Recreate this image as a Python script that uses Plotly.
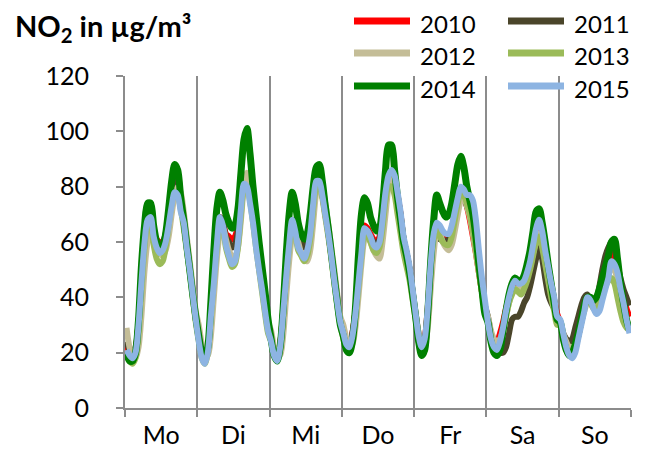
import plotly.graph_objects as go

days = ["Mo", "Di", "Mi", "Do", "Fr", "Sa", "So"]
years = ["2010", "2011", "2012", "2013", "2014", "2015"]
colors = ["#FF0000", "#4A452A", "#C4BD97", "#9BBB59", "#008000", "#8DB4E2"]
widths = [6, 6, 6, 6, 7, 6]
y_ticks = [0, 20, 40, 60, 80, 100, 120]

# hourly mean NO2 per weekday (24 values per day)
y2010 = [
    [23, 20, 19, 21, 31, 47, 61, 68, 68, 63, 61, 60, 60, 62, 68, 76, 80, 79, 73, 67, 59, 50, 42, 33],
    [25, 19, 17, 21, 34, 47, 60, 69, 67, 63, 62, 61, 62, 66, 75, 82, 83, 77, 69, 60, 51, 44, 36, 29],
    [25, 20, 18, 23, 35, 49, 60, 68, 66, 61, 60, 59, 60, 65, 75, 82, 82, 77, 70, 63, 55, 47, 39, 31],
    [27, 23, 22, 27, 35, 47, 58, 66, 65, 63, 61, 60, 62, 69, 78, 84, 85, 83, 77, 70, 61, 56, 50, 42],
    [33, 26, 22, 25, 36, 52, 62, 66, 65, 63, 62, 62, 65, 70, 75, 78, 77, 73, 68, 62, 56, 49, 42, 36],
    [32, 27, 24, 24, 27, 31, 36, 40, 44, 45, 45, 45, 46, 49, 54, 60, 65, 68, 64, 58, 51, 45, 39, 34],
    [31, 26, 22, 20, 20, 22, 26, 31, 36, 39, 39, 37, 37, 40, 44, 48, 52, 55, 56, 51, 45, 40, 36, 33],
]
y2011 = [
    [24, 21, 20, 22, 31, 47, 61, 68, 68, 63, 60, 59, 60, 63, 69, 77, 82, 84, 76, 67, 58, 50, 41, 32],
    [26, 20, 18, 21, 34, 48, 61, 69, 67, 62, 60, 58, 59, 64, 74, 82, 83, 77, 69, 60, 52, 44, 37, 30],
    [26, 21, 19, 23, 35, 49, 60, 68, 66, 61, 59, 58, 60, 65, 75, 82, 83, 78, 71, 64, 56, 48, 40, 32],
    [28, 24, 23, 27, 35, 47, 58, 65, 64, 62, 60, 59, 61, 68, 77, 83, 84, 82, 76, 70, 61, 56, 50, 42],
    [34, 27, 23, 25, 35, 50, 60, 63, 61, 61, 60, 61, 64, 69, 74, 77, 76, 73, 70, 65, 58, 50, 43, 37],
    [33, 27, 23, 21, 20, 20, 22, 27, 32, 33, 33, 35, 38, 40, 44, 49, 54, 58, 54, 47, 41, 38, 36, 33],
    [30, 27, 25, 24, 25, 29, 33, 37, 40, 41, 39, 38, 39, 44, 50, 55, 58, 60, 58, 52, 47, 43, 40, 37],
]
y2012 = [
    [29, 22, 19, 18, 22, 34, 50, 60, 63, 60, 57, 56, 55, 57, 62, 70, 77, 80, 78, 71, 62, 53, 44, 35],
    [30, 23, 19, 19, 26, 40, 54, 63, 65, 61, 57, 55, 54, 58, 68, 80, 85, 82, 73, 64, 55, 47, 39, 31],
    [28, 22, 19, 19, 26, 40, 53, 62, 64, 60, 56, 54, 53, 57, 67, 78, 82, 80, 74, 66, 58, 50, 41, 33],
    [30, 25, 22, 23, 29, 40, 52, 61, 63, 60, 57, 55, 54, 60, 70, 80, 84, 82, 76, 69, 61, 55, 49, 41],
    [34, 27, 23, 23, 29, 43, 56, 63, 63, 60, 58, 57, 59, 64, 70, 75, 76, 73, 69, 63, 56, 49, 42, 36],
    [33, 28, 25, 24, 25, 28, 33, 38, 42, 43, 43, 43, 44, 47, 51, 56, 60, 63, 60, 55, 48, 42, 37, 32],
    [31, 27, 24, 22, 22, 23, 26, 31, 35, 38, 38, 37, 36, 37, 40, 44, 48, 51, 50, 46, 41, 36, 32, 29],
]
y2013 = [
    [19, 17, 16, 18, 27, 43, 58, 66, 66, 59, 54, 52, 53, 58, 66, 74, 78, 77, 72, 65, 57, 49, 40, 31],
    [24, 18, 16, 20, 32, 46, 58, 67, 65, 58, 54, 51, 52, 58, 70, 79, 80, 75, 67, 58, 50, 42, 34, 27],
    [24, 19, 17, 21, 33, 47, 58, 66, 63, 57, 55, 53, 55, 61, 72, 80, 81, 76, 69, 62, 54, 45, 37, 30],
    [25, 21, 20, 24, 32, 44, 55, 63, 62, 60, 57, 56, 58, 65, 75, 80, 80, 77, 70, 63, 56, 51, 46, 39],
    [32, 24, 19, 21, 33, 50, 61, 64, 62, 60, 59, 59, 62, 68, 74, 78, 77, 74, 70, 64, 57, 49, 42, 35],
    [31, 25, 22, 21, 23, 27, 33, 38, 41, 43, 42, 41, 43, 46, 50, 55, 60, 62, 58, 52, 46, 40, 35, 30],
    [30, 25, 21, 19, 19, 21, 26, 31, 36, 39, 38, 36, 36, 38, 41, 44, 46, 47, 45, 40, 35, 31, 29, 28],
]
y2014 = [
    [20, 17, 17, 20, 32, 52, 66, 74, 74, 66, 60, 57, 58, 63, 72, 82, 88, 86, 76, 68, 59, 50, 41, 33],
    [26, 20, 18, 22, 38, 57, 72, 78, 75, 70, 67, 65, 66, 72, 85, 97, 101, 92, 80, 70, 60, 51, 42, 32],
    [25, 19, 17, 22, 36, 55, 70, 78, 74, 67, 63, 61, 63, 70, 80, 87, 88, 82, 73, 65, 56, 47, 38, 30],
    [26, 21, 20, 24, 36, 55, 70, 76, 74, 69, 66, 64, 65, 73, 86, 95, 95, 86, 76, 68, 60, 55, 49, 41],
    [33, 24, 19, 21, 34, 53, 68, 77, 74, 71, 69, 70, 74, 81, 88, 91, 87, 80, 75, 70, 62, 52, 43, 34],
    [31, 24, 20, 19, 21, 28, 35, 41, 45, 47, 46, 46, 48, 52, 57, 64, 71, 72, 67, 60, 52, 45, 38, 32],
    [31, 25, 21, 19, 20, 23, 27, 32, 37, 40, 40, 39, 40, 43, 47, 51, 55, 60, 61, 54, 45, 38, 32, 28],
]
y2015 = [
    [21, 19, 18, 20, 30, 46, 60, 68, 69, 62, 58, 56, 57, 60, 66, 73, 78, 77, 71, 67, 58, 50, 41, 32],
    [24, 18, 16, 20, 33, 45, 59, 69, 66, 59, 55, 52, 53, 60, 72, 81, 80, 74, 67, 58, 50, 43, 35, 28],
    [24, 19, 17, 22, 34, 47, 59, 68, 64, 58, 56, 54, 57, 63, 74, 82, 82, 77, 70, 63, 55, 46, 38, 31],
    [27, 23, 22, 26, 34, 45, 56, 65, 64, 62, 59, 58, 60, 68, 78, 84, 86, 84, 78, 71, 62, 57, 51, 43],
    [34, 26, 22, 25, 36, 52, 63, 67, 66, 64, 63, 63, 66, 71, 76, 80, 79, 77, 77, 75, 68, 57, 47, 39],
    [31, 25, 22, 21, 24, 29, 35, 40, 44, 46, 45, 45, 46, 49, 53, 59, 65, 68, 64, 57, 51, 45, 40, 33],
    [32, 27, 22, 19, 18, 20, 25, 30, 35, 40, 39, 36, 34, 35, 39, 43, 47, 53, 52, 49, 43, 38, 32, 27],
]

series = [y2010, y2011, y2012, y2013, y2014, y2015]
hours = [d * 24 + h + 0.5 for d in range(len(days)) for h in range(24)]

FONT = "Lato"
GRID = "#8C8C8C"
NB = "\u00a0"

# the page body has an 8px default margin; work in page pixels and convert
OFF = 8
W, H = 648 - OFF, 450 - OFF
PL, PR, PT, PB = 125 - OFF, 631 - OFF, 76 - OFF, 408 - OFF   # plot area in figure px
PW, PH = PR - PL, PB - PT


def px(xp):
    return (xp - OFF - PL) / PW


def py(yp):
    return (PB - (yp - OFF)) / PH


fig = go.Figure()
for name, vals, col, w in zip(years, series, colors, widths):
    flat = [v for day in vals for v in day]
    fig.add_trace(go.Scatter(x=hours, y=flat, mode="lines", name=name,
                             line=dict(color=col, width=w, shape="spline", smoothing=0.8),
                             showlegend=False))

fig.update_layout(
    width=W, height=H,
    margin=dict(l=PL, r=W - PR, t=PT, b=H - PB, autoexpand=False),
    paper_bgcolor="white", plot_bgcolor="white",
    font=dict(family=FONT, size=25, color="black"),
    xaxis=dict(
        range=[0, 168],
        tickmode="array",
        tickvals=[d * 24 + 12 for d in range(len(days))],
        ticktext=days,
        ticks="",
        showgrid=False,
        showline=True, linecolor=GRID, linewidth=1.5,
        zeroline=False, automargin=False,
        ticklabelstandoff=4,
        minor=dict(tickmode="array", tickvals=[d * 24 for d in range(len(days) + 1)],
                   ticks="outside", ticklen=7, tickwidth=1.5, tickcolor=GRID,
                   showgrid=True, gridcolor=GRID, gridwidth=1.5),
    ),
    yaxis=dict(
        range=[0, 120],
        tickmode="array", tickvals=y_ticks,
        ticktext=[f"{v}{NB * 3}" for v in y_ticks],
        ticks="outside", ticklen=7, tickwidth=1.5, tickcolor=GRID,
        showgrid=False, zeroline=False, automargin=False,
        showline=True, linecolor=GRID, linewidth=1.5,
        ticklabelstandoff=3,
    ),
)

# title annotation
fig.add_annotation(xref="paper", yref="paper", x=px(13), y=py(28),
                   xanchor="left", yanchor="middle", showarrow=False,
                   text="<b>NO<sub>2</sub> in µg/m³</b>",
                   font=dict(family=FONT, size=29, color="black"))

# manual legend (two columns, row-wise)
leg_cols = [354, 508]
leg_rows = [21, 53, 86]
for i, (name, col) in enumerate(zip(years, colors)):
    cx = leg_cols[i % 2]
    ry = leg_rows[i // 2]
    fig.add_shape(type="line", xref="paper", yref="paper",
                  x0=px(cx), x1=px(cx + 56), y0=py(ry), y1=py(ry),
                  line=dict(color=col, width=7))
    fig.add_annotation(xref="paper", yref="paper", x=px(cx + 64), y=py(ry + 2),
                       xanchor="left", yanchor="middle", showarrow=False, text=name,
                       font=dict(family=FONT, size=24, color="black"))

fig.write_html("out.html")
